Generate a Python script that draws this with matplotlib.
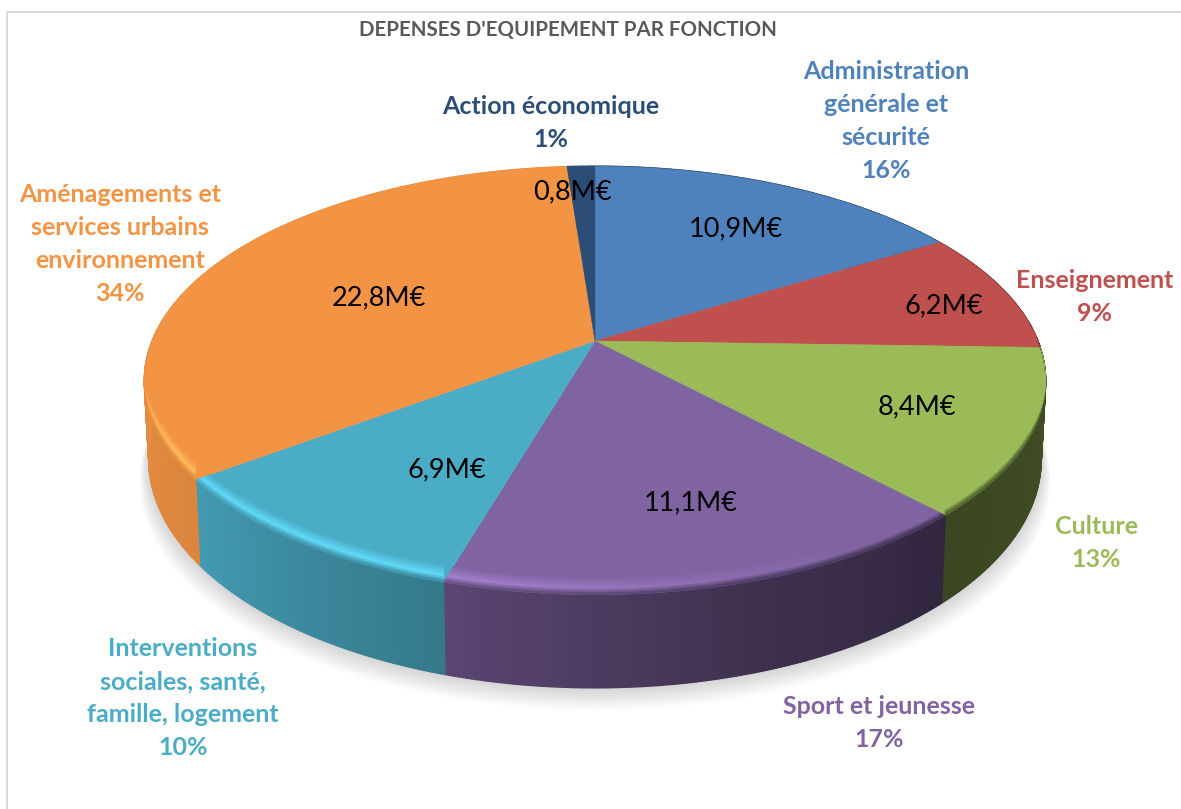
#!/usr/bin/env python
# -*- coding: utf-8 -*-

import numpy as np
from matplotlib import pyplot as plt
from matplotlib.collections import PolyCollection
from matplotlib.colors import to_rgb

title = "DEPENSES D'EQUIPEMENT PAR FONCTION"
categories = ['Administration\ngénérale et\nsécurité', 'Enseignement', 'Culture', 'Sport et jeunesse',
              'Interventions\nsociales, santé,\nfamille, logement',
              'Aménagements et\nservices urbains\nenvironnement', 'Action économique']
amounts = [10.9, 6.2, 8.4, 11.1, 6.9, 22.8, 0.8]
colors = ['#4f81bd', '#c0504d', '#9bbb59', '#8064a2', '#4bacc6', '#f39445', '#2c4d75']

# label anchors, in figure pixels
name_pos = [(886, 121), (1095, 297), (1096, 543), (879, 723), (183, 698), (120, 244), (551, 123)]
value_pos = [(736, 229), (944, 306), (917, 407), (691, 503), (447, 470), (379, 298), (572, 192)]

# pie projection
cx, cy = 595.0, 341.0
rx, ry, tilt = 443.0, 207.0, 0.184
depth = 76.0
bevel = 18.0

plt.rcParams['font.family'] = ['Lato', 'DejaVu Sans']

fig = plt.figure(figsize=(11.81, 8.09), dpi=100)
ax = fig.add_axes([0, 0, 1, 1])
ax.set_xlim(0, 1181)
ax.set_ylim(809, 0)
ax.axis('off')


def top_edge(theta):
    # theta in degrees, clockwise from twelve o'clock
    t = np.radians(theta)
    w = 1 + tilt * np.cos(t)
    return cx + rx * np.sin(t) / w, cy - ry * np.cos(t) / w, w


def bottom_edge(theta):
    x, y, w = top_edge(theta)
    return cx + (x - cx) * 0.99, y + depth / w


def side_factor(theta):
    return np.interp(theta, [90, 136, 165, 196, 233, 270], [0.42, 0.38, 0.5, 0.7, 0.9, 0.95])


def glow(theta):
    return np.interp(theta, [150, 195, 240, 268], [0.0, 0.24, 0.24, 0.03])


def bevel_height(theta):
    # the rounded edge dies out towards the sides of the pie
    return bevel * np.clip(-np.cos(np.radians(theta)) / 0.45, 0, 1)


# chart frame
ax.plot([7, 7, 1181], [809, 12, 12], color='#d4d4d4', linewidth=1.2, zorder=1)

shares = np.array(amounts) / sum(amounts)
stops = np.concatenate([[0], np.cumsum(shares) * 360])

# soft shadow under the pie
ring = np.linspace(0, 360, 361)
bx, by = bottom_edge(ring)
for i in range(1, 15):
    ax.fill(bx + (bx - cx) * 0.0015 * i, by + 1.6 * i, color='black', alpha=0.011, linewidth=0, zorder=2)

for i, col in enumerate(colors):
    base = np.array(to_rgb(col))
    th = np.linspace(stops[i], stops[i + 1], max(int((stops[i + 1] - stops[i]) * 2), 3))
    xt, yt, _ = top_edge(th)
    xb, yb = bottom_edge(th)

    # outer wall, shaded along the rim
    quads, shade = [], []
    for j in range(len(th) - 1):
        quads.append([(xt[j], yt[j]), (xt[j + 1], yt[j + 1]), (xb[j + 1], yb[j + 1]), (xb[j], yb[j])])
        shade.append(base * side_factor(th[j]))
    ax.add_collection(PolyCollection(quads, facecolors=shade, edgecolors=shade, linewidths=1.0, zorder=3))

    # flat top
    top = ax.fill(np.r_[cx, xt], np.r_[cy, yt], color=col, linewidth=0.3, zorder=4)[0]

    # rounded edge between top and wall
    quads, shade = [], []
    steps = np.linspace(0, 1, 11)
    for j in range(len(th) - 1):
        mid = 0.5 * (th[j] + th[j + 1])
        if mid < 90 or mid > 270:
            continue
        lit = np.clip(base * (1 + glow(mid)) + glow(mid) * 0.08, 0, 1)
        dark = base * side_factor(mid)
        h0, h1 = bevel_height(th[j]), bevel_height(th[j + 1])
        for k in range(len(steps) - 1):
            u, v = steps[k], steps[k + 1]
            quads.append([(xt[j], yt[j] - h0 * (1 - u)), (xt[j + 1], yt[j + 1] - h1 * (1 - u)),
                          (xt[j + 1], yt[j + 1] - h1 * (1 - v)), (xt[j], yt[j] - h0 * (1 - v))])
            if u < 0.6:
                shade.append(base + (lit - base) * (u / 0.6))
            else:
                shade.append(lit + (dark - lit) * ((u - 0.6) / 0.4))
    if quads:
        rim = PolyCollection(quads, facecolors=shade, edgecolors=shade, linewidths=0.6, zorder=5)
        ax.add_collection(rim)
        rim.set_clip_path(top)

# labels
for i, name in enumerate(categories):
    ax.text(name_pos[i][0], name_pos[i][1], '%s\n%d%%' % (name, round(shares[i] * 100)), color=colors[i],
            fontsize=18, fontweight='bold', ha='center', va='center', linespacing=1.51, zorder=6)
    ax.text(value_pos[i][0], value_pos[i][1], ('%.1fM€' % amounts[i]).replace('.', ','), color='black',
            fontsize=19.5, ha='center', va='center', zorder=6)

ax.text(568, 30, title, color='#595959', fontsize=14.8, fontweight='bold', ha='center', va='center', zorder=6)

plt.savefig('out.png', dpi=100)
